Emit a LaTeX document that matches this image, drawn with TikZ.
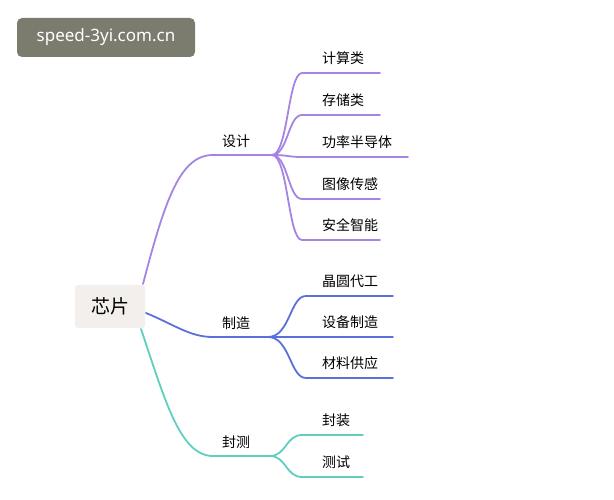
\documentclass[tikz,border=0pt]{standalone}
\usepackage{fontspec}
\setmainfont{Noto Sans CJK SC}
\newfontfamily\markfont{Noto Sans}
\usetikzlibrary{positioning}
\definecolor{MapPurple}{HTML}{A584E3}
\definecolor{MapBlue}{HTML}{5B70DA}
\definecolor{MapTeal}{HTML}{5FCFBF}
\definecolor{RootFill}{HTML}{F2EFEC}
\definecolor{MarkGray}{HTML}{7C7C6E}

\begin{document}
\begin{tikzpicture}[x = 1pt, y = -1pt]%
    %
    \tikzstyle{branch} = [line width = 1.8pt, line cap = round]%
    \tikzstyle{leaf} = [anchor = south west, inner sep = 2pt, font = \fontsize{14}{16}\selectfont]%
    \tikzstyle{topic} = [anchor = south west, inner sep = 2pt, font = \fontsize{14}{16}\selectfont]%
    %
    \useasboundingbox (0, 0) rectangle (614, 500);%
    %
    \node [fill = MarkGray, rounded corners = 5pt, minimum width = 178, minimum height = 39, text = white, font = \markfont\fontsize{17}{19}\selectfont] (mark) at (106, 37.5) {speed-3yi.com.cn};%
    %
    \node [fill = RootFill, rounded corners = 3pt, minimum width = 70, minimum height = 43, font = \fontsize{19}{21}\selectfont] (root) at (110, 306.5) {芯片};%
    %
    % design
    \coordinate (dA) at (213, 155);%
    \coordinate (dB) at (272, 155);%
    \node [topic] (design) at (220, 150) {设计};%
    \draw [branch, MapPurple] (143, 284) .. controls (165, 200) and (180, 155) .. (dA) -- (dB);%
    \foreach \y/\e/\t [count = \i] in {73/380/计算类, 115/380/存储类, 157/408/功率半导体, 199/380/图像传感, 240/380/安全智能}{%
        \coordinate (ds\i) at (302, \y);%
        \coordinate (de\i) at (\e, \y);%
        \draw [branch, MapPurple] (dB) .. controls (288, 155) and (288, \y) .. (ds\i) -- (de\i);%
        \node [leaf] (dl\i) at (320, \y - 6) {\t};%
    }%
    %
    % manufacturing
    \coordinate (mA) at (213, 337);%
    \coordinate (mB) at (268, 337);%
    \node [topic] (make) at (220, 332) {制造};%
    \draw [branch, MapBlue] (146, 313) .. controls (175, 325) and (190, 337) .. (mA) -- (mB);%
    \foreach \y/\t [count = \i] in {296/晶圆代工, 337/设备制造, 378/材料供应}{%
        \coordinate (ms\i) at (306, \y);%
        \coordinate (me\i) at (393, \y);%
        \draw [branch, MapBlue] (mB) .. controls (290, 337) and (290, \y) .. (ms\i) -- (me\i);%
        \node [leaf] (ml\i) at (320, \y - 6) {\t};%
    }%
    %
    % packaging and testing
    \coordinate (pA) at (213, 456);%
    \coordinate (pB) at (270, 456);%
    \node [topic] (pack) at (220, 451) {封测};%
    \draw [branch, MapTeal] (141, 329) .. controls (165, 400) and (180, 456) .. (pA) -- (pB);%
    \foreach \y/\t [count = \i] in {435/封装, 477/测试}{%
        \coordinate (ps\i) at (302, \y);%
        \coordinate (pe\i) at (363, \y);%
        \draw [branch, MapTeal] (pB) .. controls (286, 456) and (286, \y) .. (ps\i) -- (pe\i);%
        \node [leaf] (pl\i) at (320, \y - 6) {\t};%
    }%
\end{tikzpicture}
\end{document}
